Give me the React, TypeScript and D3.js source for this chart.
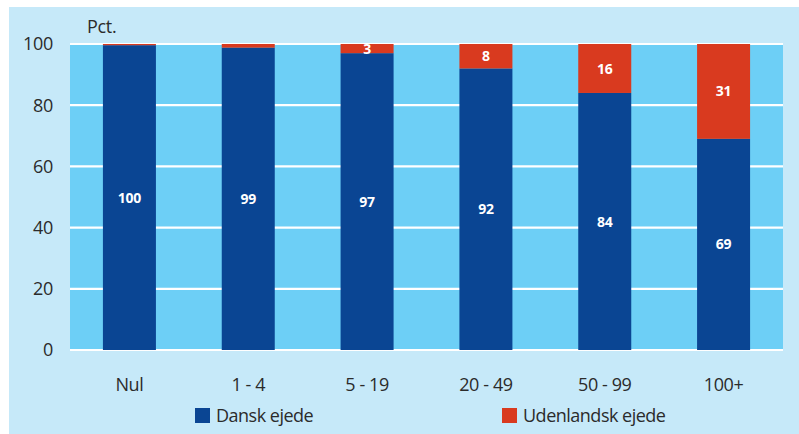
import React from "react";
import * as d3 from "d3";

const categories = ["Nul", "1 - 4", "5 - 19", "20 - 49", "50 - 99", "100+"];
const danskEjede = [99.6, 98.8, 97, 92, 84, 69];
const udenlandskEjede = [0.4, 1.2, 3, 8, 16, 31];
const danskLabels = ["100", "99", "97", "92", "84", "69"];
const udenlandskLabels = ["", "", "3", "8", "16", "31"];
const yTicks = [0, 20, 40, 60, 80, 100];
const seriesNames = ["Dansk ejede", "Udenlandsk ejede"];

const W = 799;
const H = 434;
const BLUE = "#0a4593";
const RED = "#d93a1f";
const PLOT_BG = "#6dcff6";
const OUTER_BG = "#c6e9f9";
const TEXT = "#2b2b2b";
const FONT = "'Open Sans', 'Noto Sans', sans-serif";

export default function App() {
  const left = 70, right = 783, top = 44, bottom = 350;
  const x = d3.scaleBand<string>().domain(categories).range([left, right]).paddingInner(0.554).paddingOuter(0.277);
  const y = d3.scaleLinear().domain([0, 100]).range([bottom, top]);
  const bw = x.bandwidth();

  return (
    <div style={{ position: "absolute", left: 0, top: 0 }}>
      <svg width={W} height={H} style={{ display: "block" }}>
        <rect x={0} y={0} width={W} height={H} fill="#ffffff" />
        <rect x={9} y={7} width={W - 9} height={H - 7} fill={OUTER_BG} />
        <rect x={left} y={top} width={right - left} height={bottom - top} fill={PLOT_BG} />
        {yTicks.map((t) => (
          <line key={t} x1={left} x2={right} y1={y(t)} y2={y(t)} stroke="#ffffff" strokeWidth={2.2} />
        ))}
        {yTicks.map((t) => (
          <text key={"l" + t} x={53} y={y(t)} dy="0.36em" textAnchor="end" fontSize={18} letterSpacing={-0.3} fontFamily={FONT} fill={TEXT}>
            {t}
          </text>
        ))}
        <text x={87} y={33} fontSize={18} letterSpacing={-0.3} fontFamily={FONT} fill={TEXT}>Pct.</text>
        {categories.map((c, i) => {
          const x0 = x(c)!;
          const d = danskEjede[i];
          const u = udenlandskEjede[i];
          return (
            <g key={c}>
              <rect x={x0} y={y(d)} width={bw} height={y(0) - y(d)} fill={BLUE} />
              <rect x={x0} y={y(d + u)} width={bw} height={y(d) - y(d + u)} fill={RED} />
              <text x={x0 + bw / 2} y={(y(0) + y(d)) / 2} dy="0.36em" textAnchor="middle" fontSize={14} fontWeight="bold" letterSpacing={-0.3} fontFamily={FONT} fill="#ffffff">
                {danskLabels[i]}
              </text>
              {udenlandskLabels[i] && (
                <text x={x0 + bw / 2} y={(y(d) + y(d + u)) / 2} dy="0.36em" textAnchor="middle" fontSize={14} fontWeight="bold" letterSpacing={-0.3} fontFamily={FONT} fill="#ffffff">
                  {udenlandskLabels[i]}
                </text>
              )}
              <text x={x0 + bw / 2} y={385} dy="0.36em" textAnchor="middle" fontSize={18} letterSpacing={-0.4} fontFamily={FONT} fill={TEXT}>
                {c}
              </text>
            </g>
          );
        })}
        {seriesNames.map((s, i) => {
          const lx = i === 0 ? 195 : 502;
          return (
            <g key={s}>
              <rect x={lx} y={408} width={15} height={15} fill={i === 0 ? BLUE : RED} />
              <text x={lx + 21} y={415.5} dy="0.36em" fontSize={18} letterSpacing={-0.5} fontFamily={FONT} fill={TEXT}>{s}</text>
            </g>
          );
        })}
      </svg>
    </div>
  );
}
